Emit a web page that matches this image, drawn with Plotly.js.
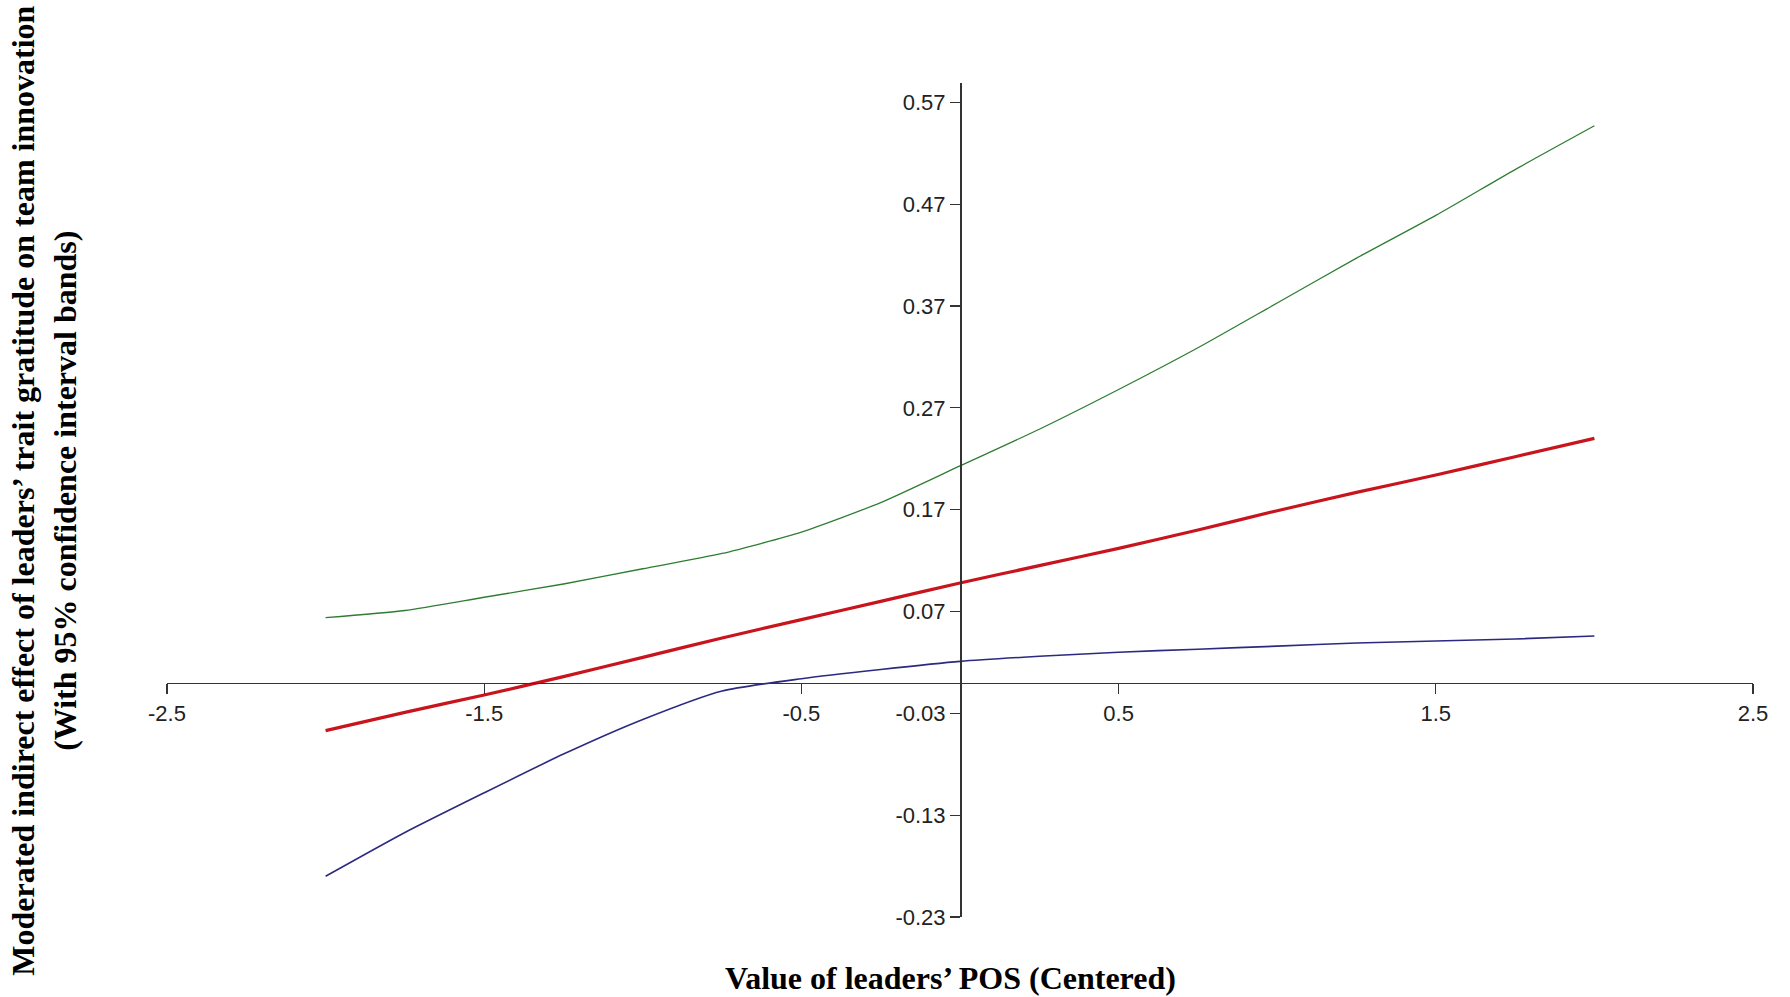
<!DOCTYPE html>
<html>
<head>
<meta charset="utf-8">
<script src="https://cdn.plot.ly/plotly-3.0.1.min.js"></script>
<style>
html,body{margin:0;padding:0;background:#fff;}
#chart{width:1790px;height:997px;}
</style>
</head>
<body>
<div id="chart"></div>
<script>
// Moderator values (leaders' POS, centered)
const posValues = [-2, -1.75, -1.5, -1.25, -1, -0.75, -0.5, -0.25, 0, 0.25, 0.5, 0.75, 1, 1.25, 1.5, 1.75, 2];
// Moderated indirect effect (point estimate)
const effect = [-0.047, -0.029, -0.012, 0.006, 0.025, 0.044, 0.062, 0.080, 0.098, 0.115, 0.132, 0.150, 0.169, 0.187, 0.204, 0.222, 0.240];
// Upper 95% confidence band
const upperCI = [0.064, 0.071, 0.084, 0.097, 0.112, 0.127, 0.148, 0.177, 0.213, 0.249, 0.288, 0.329, 0.373, 0.417, 0.459, 0.504, 0.547];
// Lower 95% confidence band
const lowerCI = [-0.190, -0.147, -0.108, -0.070, -0.036, -0.008, 0.004, 0.013, 0.021, 0.026, 0.030, 0.033, 0.036, 0.039, 0.041, 0.043, 0.046];

// Tick values and labels
const xTickVals = [-2.5, -1.5, -0.5, 0.5, 1.5, 2.5];
const xTickText = ["-2.5", "-1.5", "-0.5", "0.5", "1.5", "2.5"];
const yTickVals = [-0.23, -0.13, -0.03, 0.07, 0.17, 0.27, 0.37, 0.47, 0.57];
const yTickText = ["-0.23", "-0.13", "-0.03", "0.07", "0.17", "0.27", "0.37", "0.47", "0.57"];

const xRange = [-2.5, 2.5];
const yRange = [-0.23, 0.589];

const xTitle = "Value of leaders\u2019 POS (Centered)";
const yTitle = "Moderated indirect effect of leaders\u2019 trait gratitude on team innovation<br>(With 95% confidence interval bands)";

const tickFont = {family: "'Liberation Sans Narrow', 'Arial Narrow', 'Liberation Sans', Arial, sans-serif", size: 22, color: "#222"};
const titleFont = {family: "'Liberation Serif', 'Times New Roman', serif", size: 32, color: "#000"};

const traces = [
  {x: posValues, y: upperCI, mode: "lines", line: {color: "#2f7d32", width: 1.3, shape: "spline", smoothing: 0.6}, name: "Upper CI"},
  {x: posValues, y: lowerCI, mode: "lines", line: {color: "#2b2a80", width: 1.6, shape: "spline", smoothing: 0.6}, name: "Lower CI"},
  {x: posValues, y: effect, mode: "lines", line: {color: "#c8141c", width: 3.2, shape: "spline", smoothing: 0.6}, name: "Effect"}
];

const xPos = (0 - yRange[0]) / (yRange[1] - yRange[0]);
const yPos = (0 - xRange[0]) / (xRange[1] - xRange[0]);

const layout = {
  width: 1790, height: 997,
  margin: {l: 167, r: 37, t: 83, b: 80},
  paper_bgcolor: "#fff", plot_bgcolor: "#fff",
  showlegend: false,
  hovermode: false,
  xaxis: {
    range: xRange, tickvals: xTickVals, ticktext: xTickText,
    showline: true, linecolor: "#333", linewidth: 1.5,
    ticks: "outside", ticklen: 10, tickwidth: 1.3, tickcolor: "#333",
    showgrid: false, zeroline: false,
    anchor: "free", position: xPos,
    tickfont: tickFont
  },
  yaxis: {
    range: yRange, tickvals: yTickVals, ticktext: yTickText,
    showline: true, linecolor: "#333", linewidth: 1.5,
    ticks: "outside", ticklen: 10, tickwidth: 1.3, tickcolor: "#333",
    showgrid: false, zeroline: false,
    anchor: "free", position: yPos,
    tickfont: tickFont
  },
  annotations: [
    {text: "<b>" + xTitle + "</b>", xref: "paper", yref: "paper", x: 0.494, y: -0.073,
     xanchor: "center", yanchor: "middle", showarrow: false, font: titleFont},
    {text: "<b>" + yTitle + "</b>", xref: "paper", yref: "paper", x: -0.0776, y: 0.511,
     xanchor: "center", yanchor: "middle", showarrow: false, textangle: -90, font: titleFont}
  ]
};

Plotly.newPlot("chart", traces, layout, {displayModeBar: false, staticPlot: true});
</script>
</body>
</html>
